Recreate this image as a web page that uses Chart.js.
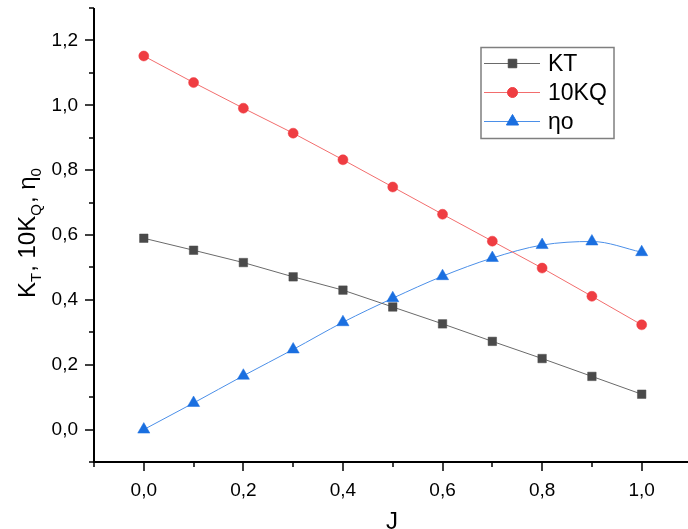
<!DOCTYPE html>
<html>
<head>
<meta charset="utf-8">
<script src="https://cdn.jsdelivr.net/npm/chart.js"></script>
<style>
  html,body{margin:0;padding:0;background:#fff;overflow:hidden;}
  #wrap{width:688px;height:529px;}
</style>
</head>
<body>
<div id="wrap"><canvas id="c" width="688" height="529"></canvas></div>
<script>
// data
const jValues    = [0, 0.1, 0.2, 0.3, 0.4, 0.5, 0.6, 0.7, 0.8, 0.9, 1.0];
const ktValues   = [0.590, 0.553, 0.515, 0.471, 0.430, 0.378, 0.326, 0.272, 0.219, 0.164, 0.109];
const kq10Values = [1.152, 1.070, 0.991, 0.914, 0.832, 0.748, 0.664, 0.581, 0.498, 0.411, 0.323];
const etaValues  = [0, 0.082, 0.166, 0.247, 0.331, 0.405, 0.473, 0.529, 0.569, 0.580, 0.547];
const seriesNames = ['KT', '10KQ', 'ηo'];

const xMajor = [0, 0.2, 0.4, 0.6, 0.8, 1.0];
const xMinor = [-0.1, 0.1, 0.3, 0.5, 0.7, 0.9];
const yMajor = [0, 0.2, 0.4, 0.6, 0.8, 1.0, 1.2];
const yMinor = [-0.1, 0.1, 0.3, 0.5, 0.7, 0.9, 1.1, 1.3];

const FONT = "'Liberation Sans', Arial, sans-serif";
const pts = ys => jValues.map((x, i) => ({x: x, y: ys[i]}));
const fmt = v => v.toFixed(1).replace('.', ',');

const datasets = [
  {label: seriesNames[0], data: pts(ktValues), borderColor: '#6a6a6a', borderWidth: 1,
   pointStyle: 'rect', pointRadius: 6, pointBackgroundColor: '#4a4a4a', pointBorderColor: '#4a4a4a', pointBorderWidth: 0.5},
  {label: seriesNames[1], data: pts(kq10Values), borderColor: '#f26d6d', borderWidth: 1,
   pointStyle: 'circle', pointRadius: 5, pointBackgroundColor: '#ef3d42', pointBorderColor: '#ef3d42', pointBorderWidth: 0.5},
  {label: seriesNames[2], data: pts(etaValues), borderColor: '#4b8fe8', borderWidth: 1, cubicInterpolationMode: 'monotone',
   pointStyle: 'triangle', pointRadius: 7, pointBackgroundColor: '#1a6fe0', pointBorderColor: '#1a6fe0', pointBorderWidth: 0.5}
];

const decor = {
  id: 'decor',
  afterDraw(chart){
    const ctx = chart.ctx, xs = chart.scales.x, ys = chart.scales.y, a = chart.chartArea;
    ctx.save();
    // axes
    ctx.strokeStyle = '#000'; ctx.lineWidth = 2;
    ctx.beginPath();
    ctx.moveTo(a.left, a.top); ctx.lineTo(a.left, a.bottom); ctx.lineTo(a.right, a.bottom);
    ctx.stroke();
    ctx.lineWidth = 1.5;
    ctx.beginPath();
    yMajor.forEach(v => { const p = Math.round(ys.getPixelForValue(v)); ctx.moveTo(a.left, p); ctx.lineTo(a.left - 9, p); });
    yMinor.forEach(v => { const p = Math.round(ys.getPixelForValue(v)); ctx.moveTo(a.left, p); ctx.lineTo(a.left - 5, p); });
    xMajor.forEach(v => { const p = Math.round(xs.getPixelForValue(v)); ctx.moveTo(p, a.bottom); ctx.lineTo(p, a.bottom + 9); });
    xMinor.forEach(v => { const p = Math.round(xs.getPixelForValue(v)); ctx.moveTo(p, a.bottom); ctx.lineTo(p, a.bottom + 5); });
    ctx.stroke();

    // x title
    ctx.fillStyle = '#000';
    ctx.font = '24px ' + FONT;
    ctx.textAlign = 'center'; ctx.textBaseline = 'alphabetic';
    ctx.fillText('J', 392, 529);

    // y title with subscripts
    ctx.save();
    ctx.translate(34.5, 298);
    ctx.rotate(-Math.PI / 2);
    ctx.textAlign = 'left';
    const parts = [['K', 0], ['T', 1], [', 10K', 0], ['Q', 1], [', η', 0], ['0', 1]];
    let x = 0;
    parts.forEach(([t, sub]) => {
      ctx.font = (sub ? '15px ' : '24px ') + FONT;
      ctx.fillText(t, x, sub ? 6 : 0);
      x += ctx.measureText(t).width + (sub ? 1 : 0);
    });
    ctx.restore();

    // legend
    const bx = 481, by = 47.5, bw = 133, bh = 91;
    ctx.strokeStyle = '#7f7f7f'; ctx.lineWidth = 1.5;
    ctx.strokeRect(bx, by, bw, bh);
    const rows = [63.5, 92.5, 121.5];
    chart.data.datasets.forEach((ds, i) => {
      const y = rows[i];
      ctx.strokeStyle = ds.borderColor; ctx.lineWidth = 1;
      ctx.beginPath(); ctx.moveTo(484, y); ctx.lineTo(540, y); ctx.stroke();
      ctx.fillStyle = ds.pointBackgroundColor; ctx.strokeStyle = ds.pointBorderColor;
      Chart.helpers.drawPoint(ctx, {pointStyle: ds.pointStyle, radius: ds.pointRadius, rotation: 0, borderWidth: 0.5}, 512.5, y);
      ctx.fillStyle = '#000';
      ctx.font = '23px ' + FONT;
      ctx.textAlign = 'left'; ctx.textBaseline = 'middle';
      ctx.fillText(ds.label, 548, y + 1);
    });
    ctx.restore();
  }
};

new Chart(document.getElementById('c'), {
  type: 'line',
  data: {datasets: datasets},
  options: {
    responsive: false,
    animation: false,
    layout: {autoPadding: false, padding: {top: 8, right: 0, left: 0, bottom: 0}},
    plugins: {legend: {display: false}, tooltip: {enabled: false}},
    scales: {
      x: {
        type: 'linear', min: -0.1, max: 1.093,
        grid: {display: false, drawTicks: false},
        border: {display: false},
        afterBuildTicks: s => { s.ticks = xMajor.map(v => ({value: v})); },
        afterFit: s => { s.height = 67; s.paddingLeft = 0; s.paddingRight = 0; },
        ticks: {padding: 17, color: '#000', font: {size: 19, family: FONT}, autoSkip: false, maxRotation: 0,
                callback: v => fmt(v)}
      },
      y: {
        min: -0.1, max: 1.3,
        grid: {display: false, drawTicks: false},
        border: {display: false},
        afterBuildTicks: s => { s.ticks = yMajor.map(v => ({value: v})); },
        afterFit: s => { s.width = 94; s.paddingTop = 0; s.paddingBottom = 0; },
        ticks: {padding: 16, color: '#000', font: {size: 19, family: FONT}, autoSkip: false,
                callback: v => fmt(v)}
      }
    }
  },
  plugins: [decor]
});
</script>
</body>
</html>
